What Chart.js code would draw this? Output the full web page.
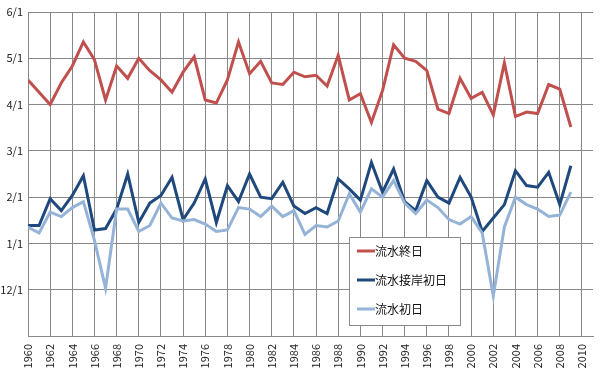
<!DOCTYPE html>
<html>
<head>
<meta charset="utf-8">
<script src="https://cdn.jsdelivr.net/npm/chart.js@4.4.1/dist/chart.umd.min.js"></script>
<style>
body { margin: 0; background: #fff; }
#wrap { width: 607px; height: 376px; }
</style>
</head>
<body>
<div id="wrap"><canvas id="myChart" width="607" height="376"></canvas></div>
<script>
const years = [1960,1961,1962,1963,1964,1965,1966,1967,1968,1969,
    1970,1971,1972,1973,1974,1975,1976,1977,1978,1979,
    1980,1981,1982,1983,1984,1985,1986,1987,1988,1989,
    1990,1991,1992,1993,1994,1995,1996,1997,1998,1999,
    2000,2001,2002,2003,2004,2005,2006,2007,2008,2009];
const yearTicks = [1960,1962,1964,1966,1968,1970,1972,1974,1976,1978,1980,1982,
    1984,1986,1988,1990,1992,1994,1996,1998,2000,2002,2004,2006,2008,2010];

// 流水終日
const endDays = ["4/17","4/9","4/1","4/15","4/26","5/12","4/30","4/4","4/26","4/18",
    "5/1","4/23","4/17","4/9","4/22","5/2","4/4","4/2","4/17","5/12",
    "4/21","4/29","4/15","4/14","4/22","4/19","4/20","4/13","5/3","4/4",
    "4/8","3/20","4/10","5/10","5/1","4/29","4/23","3/29","3/26","4/18",
    "4/5","4/9","3/25","4/28","3/24","3/27","3/26","4/14","4/11","3/17"];
// 流水接岸初日
const shoreDays = ["1/13","1/13","1/31","1/23","2/2","2/14","1/10","1/11","1/24","2/15",
    "1/15","1/28","2/2","2/13","1/17","1/28","2/12","1/15","2/8","1/29",
    "2/15","2/1","1/31","2/10","1/26","1/21","1/25","1/21","2/12","2/6",
    "1/30","2/22","2/4","2/18","1/29","1/23","2/11","2/1","1/28","2/13",
    "2/1","1/9","1/18","1/27","2/17","2/8","2/7","2/16","1/27","2/20"];
// 流水初日
const firstDays = ["1/12","1/8","1/22","1/19","1/25","1/29","1/3","12/2","1/24","1/24",
    "1/9","1/13","1/28","1/18","1/16","1/17","1/14","1/9","1/10","1/25",
    "1/24","1/19","1/26","1/19","1/23","1/7","1/13","1/12","1/16","2/3",
    "1/22","2/6","2/1","2/11","1/28","1/21","1/30","1/25","1/17","1/14",
    "1/19","1/8","11/27","1/12","2/1","1/27","1/24","1/19","1/20","2/4"];

const seriesNames = ["流水終日", "流水接岸初日", "流水初日"];
const lineColors = ["#C0504D", "#1F497D", "#95B3D7"];
// y axis: months from 11/1
const monthTicks = ["", "12/1", "1/1", "2/1", "3/1", "4/1", "5/1", "6/1"];

const monthOrder = {11: 0, 12: 1, 1: 2, 2: 3, 3: 4, 4: 5, 5: 6};
const monthLen = {11: 30, 12: 31, 1: 31, 2: 28, 3: 31, 4: 30, 5: 31};
function toPos(s) {
    const [m, d] = s.split("/").map(Number);
    return monthOrder[m] + (d - 1) / monthLen[m];
}
function toPoints(list) {
    return list.map((s, i) => ({x: years[i], y: toPos(s)}));
}

Chart.defaults.font.family = '"Noto Sans CJK JP", "Noto Sans", sans-serif';
Chart.defaults.color = "#222";

const legendBox = {
    id: "legendBox",
    afterDraw(chart) {
        const c = chart.ctx;
        c.save();
        c.fillStyle = "#fff";
        c.fillRect(349, 237, 111, 88);
        c.strokeStyle = "#8a8a8a";
        c.lineWidth = 1;
        c.strokeRect(349.5, 237.5, 111, 88);
        const rows = [251, 280, 309];
        c.font = '12px "Noto Sans CJK JP"';
        c.textBaseline = "middle";
        seriesNames.forEach((name, i) => {
            c.strokeStyle = lineColors[i];
            c.lineWidth = 3;
            c.beginPath();
            c.moveTo(357, rows[i]);
            c.lineTo(375, rows[i]);
            c.stroke();
            c.fillStyle = "#111";
            c.fillText(name, 375, rows[i]);
        });
        c.restore();
    }
};

const sets = [endDays, shoreDays, firstDays].map((list, i) => ({
    label: seriesNames[i],
    data: toPoints(list),
    borderColor: lineColors[i],
    backgroundColor: lineColors[i],
    borderWidth: 3,
    pointRadius: 0,
    tension: 0,
    order: 2 - i
}));

new Chart("myChart", {
    type: "line",
    data: { datasets: sets },
    options: {
        responsive: false,
        animation: false,
        layout: { padding: { top: 12, right: 14, left: 0, bottom: 0 } },
        plugins: { legend: { display: false }, tooltip: { enabled: false } },
        scales: {
            x: {
                type: "linear",
                min: 1960,
                max: 2011,
                afterBuildTicks: (scale) => {
                    scale.ticks = yearTicks.map(v => ({value: v}));
                },
                afterFit: (scale) => { scale.height = 40; },
                grid: { color: "#888", drawTicks: false },
                border: { color: "#888" },
                ticks: {
                    autoSkip: false,
                    maxRotation: 90,
                    minRotation: 90,
                    padding: 8,
                    font: { size: 11 },
                    callback: (v) => String(v)
                }
            },
            y: {
                min: 0,
                max: 7,
                afterFit: (scale) => { scale.width = 28; },
                grid: { color: "#888", drawTicks: false },
                border: { color: "#888" },
                ticks: {
                    stepSize: 1,
                    padding: 5,
                    font: { size: 11 },
                    callback: (v) => monthTicks[v]
                }
            }
        }
    },
    plugins: [legendBox]
});
</script>
</body>
</html>
